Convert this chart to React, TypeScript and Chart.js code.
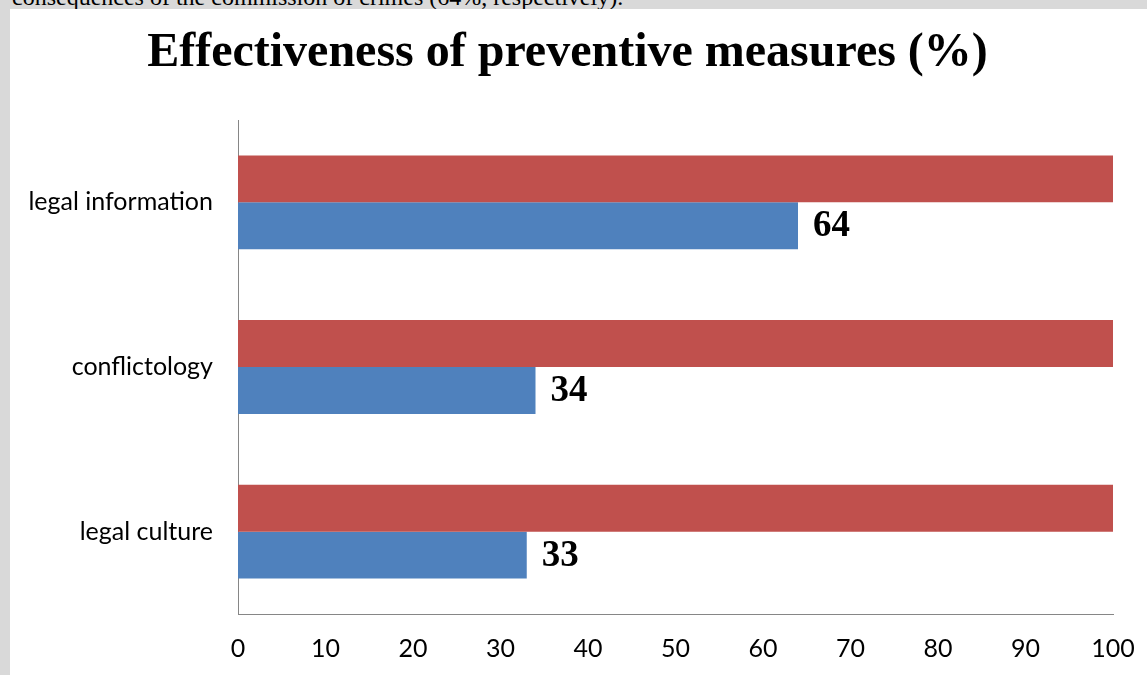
import React, { useEffect, useRef } from "react";
import { Chart, registerables } from "chart.js";

Chart.register(...registerables);

const categories = ["legal information", "conflictology", "legal culture"];
const totalValues = [100, 100, 100];
const effectiveValues = [64, 34, 33];
const xTicks = [0, 10, 20, 30, 40, 50, 60, 70, 80, 90, 100];

const valueLabels = {
  id: "valueLabels",
  afterDatasetsDraw(chart: any) {
    const ctx = chart.ctx;
    const meta = chart.getDatasetMeta(1);
    ctx.save();
    ctx.font = "bold 37px 'Liberation Serif', 'Times New Roman', serif";
    ctx.fillStyle = "#000";
    ctx.textAlign = "left";
    ctx.textBaseline = "middle";
    meta.data.forEach((bar: any, i: number) => {
      ctx.fillText(String(effectiveValues[i]), bar.x + 15, bar.y + 1);
    });
    ctx.restore();
  },
};

export default function App() {
  const ref = useRef<HTMLCanvasElement>(null);
  useEffect(() => {
    if (!ref.current) return;
    const chart = new Chart(ref.current, {
      type: "bar",
      data: {
        labels: categories,
        datasets: [
          {
            label: "total",
            data: totalValues,
            backgroundColor: "#C0504D",
            borderWidth: 0,
            categoryPercentage: 0.57,
            barPercentage: 1,
          },
          {
            label: "effective",
            data: effectiveValues,
            backgroundColor: "#4F81BD",
            borderWidth: 0,
            categoryPercentage: 0.57,
            barPercentage: 1,
          },
        ],
      },
      options: {
        indexAxis: "y",
        animation: false,
        responsive: false,
        maintainAspectRatio: false,
        layout: { padding: { left: 12, right: 34, top: 0, bottom: 0 } },
        plugins: {
          legend: { display: false },
          tooltip: { enabled: false },
          title: {
            display: true,
            text: "Effectiveness of preventive measures (%)",
            color: "#000",
            font: { family: "'Liberation Serif', 'Times New Roman', serif", size: 48, weight: "bold", lineHeight: 1.2 },
            padding: { top: 16, bottom: 37.4 },
          },
        },
        scales: {
          x: {
            min: 0,
            max: 100,
            afterBuildTicks(scale: any) {
              scale.ticks = xTicks.map((v) => ({ value: v }));
            },
            afterFit(scale: any) {
              scale.height = 61;
              scale.paddingRight = 0;
              scale.paddingLeft = 0;
            },
            grid: { display: false, drawTicks: false },
            border: { display: true, color: "#868686", width: 1 },
            ticks: {
              color: "#000",
              padding: 20,
              font: { family: "Lato, 'Open Sans', sans-serif", size: 25 },
            },
          },
          y: {
            afterFit(scale: any) {
              scale.width = 216;
            },
            grid: { display: false, drawTicks: false },
            border: { display: true, color: "#868686", width: 1 },
            ticks: {
              color: "#000",
              padding: 25,
              font: { family: "Lato, 'Open Sans', sans-serif", size: 25 },
            },
          },
        },
      },
      plugins: [valueLabels],
    });
    return () => chart.destroy();
  }, []);

  return (
    <div
      style={{
        position: "fixed",
        left: 0,
        top: 0,
        width: 1147,
        height: 675,
        background: "#d9d9d9",
        overflow: "hidden",
      }}
    >
      <div
        style={{
          position: "absolute",
          left: 12,
          top: -15,
          fontFamily: "'Liberation Serif', 'Times New Roman', serif",
          fontSize: 24,
          lineHeight: "24px",
          color: "#000",
          whiteSpace: "nowrap",
        }}
      >
        consequences of the commission of crimes (64%, respectively).
      </div>
      <div
        style={{
          position: "absolute",
          left: 10,
          top: 9,
          width: 1137,
          height: 666,
          background: "#fff",
        }}
      >
        <canvas ref={ref} width={1137} height={666} style={{ display: "block" }} />
      </div>
    </div>
  );
}
